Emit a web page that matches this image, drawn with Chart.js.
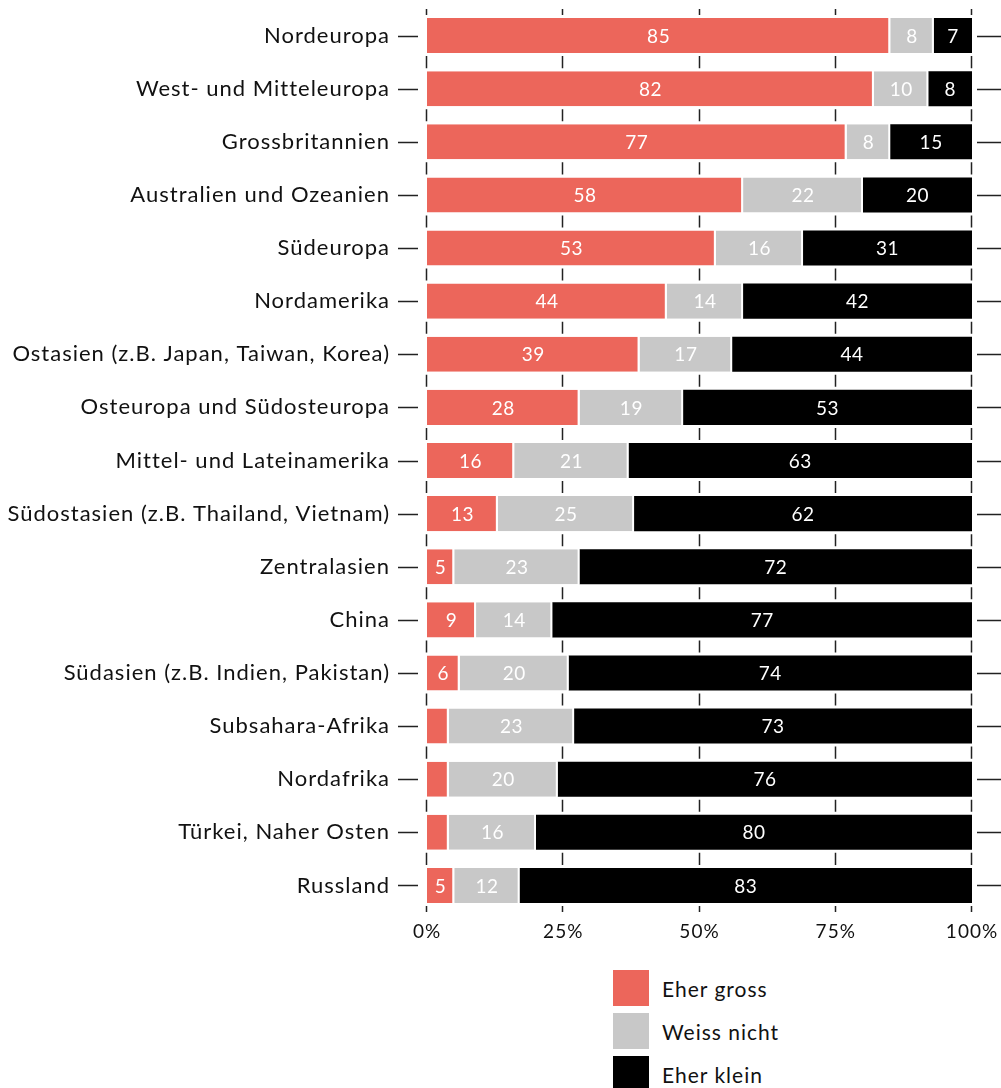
<!DOCTYPE html>
<html lang="de">
<head>
  <meta charset="UTF-8">
  <title>Einfluss nach Region</title>
  <script src="https://cdn.jsdelivr.net/npm/chart.js"></script>
  <style>
    body { margin: 0; background: #fff; font-family: Lato, sans-serif; }
    .wrap { position: relative; width: 1001px; height: 1088px; }
    .plot { position: absolute; left: 0; top: 0; width: 1001px; height: 950px; }
    #legende { position: absolute; left: 613px; top: 970px; }
    .leg-item { display: flex; align-items: center; height: 36px; margin-bottom: 7px; font-size: 21px; color: #111; letter-spacing: 1px; }
    .leg-box { width: 36px; height: 36px; margin-right: 13px; }
  </style>
</head>
<body>
  <div class="wrap">
    <div class="plot"><canvas id="chart" width="1001" height="950"></canvas></div>
    <div id="legende"></div>
  </div>

  <script>
    // Daten
    const regionen = [
      'Nordeuropa', 'West- und Mitteleuropa', 'Grossbritannien', 'Australien und Ozeanien',
      'Südeuropa', 'Nordamerika', 'Ostasien (z.B. Japan, Taiwan, Korea)', 'Osteuropa und Südosteuropa',
      'Mittel- und Lateinamerika', 'Südostasien (z.B. Thailand, Vietnam)', 'Zentralasien', 'China',
      'Südasien (z.B. Indien, Pakistan)', 'Subsahara-Afrika', 'Nordafrika', 'Türkei, Naher Osten', 'Russland'
    ];
    const eherGross   = [85, 82, 77, 58, 53, 44, 39, 28, 16, 13, 5, 9, 6, 4, 4, 4, 5];
    const weissNicht  = [8, 10, 8, 22, 16, 14, 17, 19, 21, 25, 23, 14, 20, 23, 20, 16, 12];
    const eherKlein   = [7, 8, 15, 20, 31, 42, 44, 53, 63, 62, 72, 77, 74, 73, 76, 80, 83];
    const serienNamen = ['Eher gross', 'Weiss nicht', 'Eher klein'];
    const farben      = ['#ec665b', '#c8c8c8', '#000000'];
    const xTicks      = [0, 25, 50, 75, 100];

    const schrift = 'Lato, sans-serif';

    // etwas Laufweite wie im Original
    const laufweitePlugin = {
      id: 'laufweite',
      beforeDraw(chart) { chart.ctx.letterSpacing = '1px'; }
    };

    // kurze Striche zwischen den Balken und an den Achsen
    const strichePlugin = {
      id: 'striche',
      afterDatasetsDraw(chart) {
        const ctx = chart.ctx;
        const x = chart.scales.x;
        const y = chart.scales.y;
        const area = chart.chartArea;
        const schritt = y.getPixelForValue(1) - y.getPixelForValue(0);
        const halb = schritt * 0.66 / 2;
        ctx.save();
        ctx.strokeStyle = '#222';
        ctx.lineWidth = 1.5;
        ctx.beginPath();
        xTicks.forEach(t => {
          const px = Math.round(x.getPixelForValue(t)) - 0.5;
          for (let i = -1; i < regionen.length; i++) {
            const oben = i < 0 ? area.top : y.getPixelForValue(i) + halb + 3;
            const unten = i >= regionen.length - 1 ? area.bottom : y.getPixelForValue(i + 1) - halb - 3;
            ctx.moveTo(px, oben);
            ctx.lineTo(px, unten);
          }
        });
        regionen.forEach((r, i) => {
          const py = Math.round(y.getPixelForValue(i)) + 0.5;
          ctx.moveTo(area.left - 29, py);
          ctx.lineTo(area.left - 9, py);
          ctx.moveTo(area.right + 5, py);
          ctx.lineTo(area.right + 29, py);
        });
        ctx.stroke();
        ctx.restore();
      }
    };

    // Werte in die Balken schreiben
    const wertePlugin = {
      id: 'werte',
      afterDatasetsDraw(chart) {
        const ctx = chart.ctx;
        ctx.save();
        ctx.font = '19px ' + schrift;
        ctx.letterSpacing = '0.5px';
        ctx.fillStyle = '#fff';
        ctx.textAlign = 'center';
        ctx.textBaseline = 'middle';
        chart.data.datasets.forEach((ds, d) => {
          chart.getDatasetMeta(d).data.forEach((bar, i) => {
            const v = ds.data[i];
            if (v < 5) return;
            const mitte = (bar.x + bar.base) / 2;
            ctx.fillText(String(v), mitte, bar.y + 1);
          });
        });
        ctx.restore();
      }
    };

    const datensaetze = [eherGross, weissNicht, eherKlein].map((werte, k) => ({
      label: serienNamen[k],
      data: werte,
      backgroundColor: farben[k],
      borderColor: '#fff',
      borderWidth: k < 2 ? { right: 2, left: 0, top: 0, bottom: 0 } : 0,
      borderSkipped: false,
      barPercentage: 0.66,
      categoryPercentage: 1
    }));

    new Chart(document.getElementById('chart'), {
      type: 'bar',
      data: { labels: regionen, datasets: datensaetze },
      options: {
        indexAxis: 'y',
        responsive: false,
        animation: false,
        layout: { padding: { top: 9, right: 29, bottom: 0, left: 0 } },
        scales: {
          x: {
            stacked: true,
            min: 0,
            max: 100,
            border: { display: false },
            grid: { display: false, drawTicks: false },
            afterBuildTicks(s) { s.ticks = xTicks.map(v => ({ value: v })); },
            afterFit(s) { s.height = 38; s.paddingLeft = 0; s.paddingRight = 0; },
            ticks: {
              padding: 8,
              color: '#111',
              font: { family: schrift, size: 19 },
              callback: v => v + '%'
            }
          },
          y: {
            stacked: true,
            border: { display: false },
            grid: { display: false, drawTicks: false },
            afterFit(s) { s.width = 427; s.paddingTop = 0; s.paddingBottom = 0; },
            ticks: {
              padding: 37,
              color: '#111',
              font: { family: schrift, size: 22 }
            }
          }
        },
        plugins: {
          legend: { display: false },
          tooltip: { enabled: false }
        }
      },
      plugins: [laufweitePlugin, strichePlugin, wertePlugin]
    });

    // Legende
    const legende = document.getElementById('legende');
    serienNamen.forEach((name, k) => {
      const item = document.createElement('div');
      item.className = 'leg-item';
      item.innerHTML = '<div class="leg-box" style="background:' + farben[k] + '"></div><span>' + name + '</span>';
      legende.appendChild(item);
    });
  </script>
</body>
</html>
